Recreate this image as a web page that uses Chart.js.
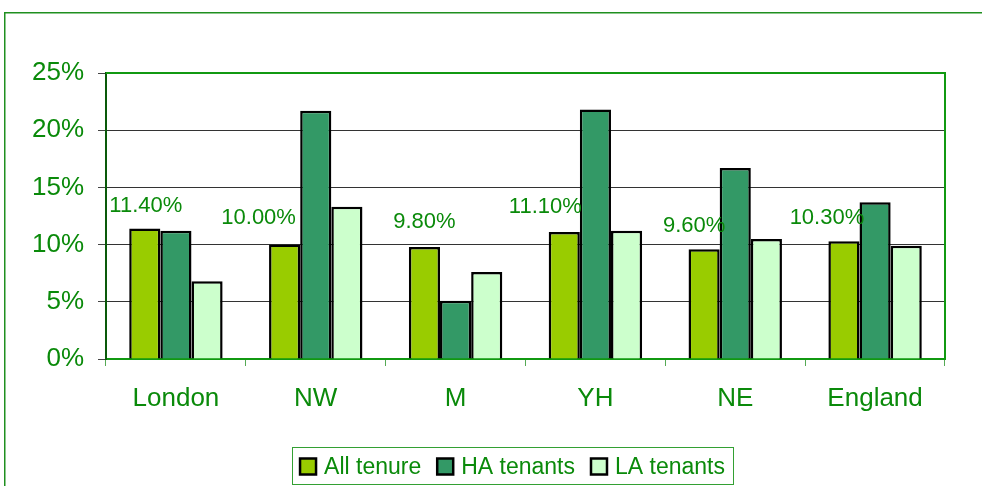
<!DOCTYPE html>
<html>
<head>
<meta charset="utf-8">
<style>
  html, body { margin: 0; padding: 0; background: #ffffff; }
  #wrap { position: relative; width: 982px; height: 486px; }
  canvas { display: block; }
</style>
<script src="https://cdn.jsdelivr.net/npm/chart.js@4"></script>
</head>
<body>
<div id="wrap"><canvas id="c" width="982" height="486"></canvas></div>
<script>
const categories = ['London', 'NW', 'M', 'YH', 'NE', 'England'];
const allTenure = [11.4, 10.0, 9.8, 11.1, 9.6, 10.3];
const haTenants = [11.2, 21.7, 5.1, 21.8, 16.7, 13.7];
const laTenants = [6.8, 13.3, 7.6, 11.2, 10.5, 9.9];
const allTenureLabels = ['11.40%', '10.00%', '9.80%', '11.10%', '9.60%', '10.30%'];
const seriesNames = ['All tenure', 'HA tenants', 'LA tenants'];
const yTicks = [0, 5, 10, 15, 20, 25];

const FONT = "'Liberation Sans', Arial, sans-serif";
const GREEN = '#0a8a0a';
const COLORS = ['#99cc00', '#339966', '#ccffcc'];

const framePlugin = {
  id: 'frame',
  beforeDraw(chart) {
    const ctx = chart.ctx;
    ctx.save();
    ctx.strokeStyle = '#1f8f1f';
    ctx.lineWidth = 1.5;
    ctx.strokeRect(4.75, 12.75, 1100, 600);
    ctx.restore();
  },
  afterDatasetsDraw(chart) {
    const a = chart.chartArea;
    const ctx = chart.ctx;
    ctx.save();
    ctx.strokeStyle = '#119911';
    ctx.lineWidth = 2;
    ctx.beginPath();
    ctx.moveTo(a.left, a.top);
    ctx.lineTo(a.right, a.top);
    ctx.lineTo(a.right, a.bottom);
    ctx.stroke();
    ctx.restore();
  }
};

const labelPlugin = {
  id: 'barLabels',
  afterDatasetsDraw(chart, args, opts) {
    const meta = chart.getDatasetMeta(0);
    const ctx = chart.ctx;
    ctx.save();
    ctx.font = '22px ' + FONT;
    ctx.fillStyle = GREEN;
    ctx.textAlign = 'center';
    ctx.textBaseline = 'middle';
    meta.data.forEach((bar, i) => {
      const off = opts.offsets[i] || [0, -24];
      ctx.fillText(allTenureLabels[i], bar.x + off[0], bar.y + off[1]);
    });
    ctx.restore();
  }
};

const legendPlugin = {
  id: 'boxLegend',
  afterDraw(chart) {
    const ctx = chart.ctx;
    const box = { x: 292, y: 447, w: 441, h: 37 };
    ctx.save();
    ctx.strokeStyle = '#33a033';
    ctx.lineWidth = 1;
    ctx.strokeRect(box.x + 0.5, box.y + 0.5, box.w, box.h);
    ctx.font = '23px ' + FONT;
    const sq = 16, gapSq = 8, gapItem = 16;
    const widths = seriesNames.map(n => ctx.measureText(n).width);
    let total = 0;
    widths.forEach((w, i) => { total += sq + gapSq + w + (i < widths.length - 1 ? gapItem : 0); });
    let x = box.x + (box.w - total) / 2;
    const cy = box.y + box.h / 2 + 1;
    ctx.textBaseline = 'middle';
    ctx.textAlign = 'left';
    seriesNames.forEach((n, i) => {
      ctx.fillStyle = COLORS[i];
      ctx.fillRect(x, cy - sq / 2, sq, sq);
      ctx.strokeStyle = '#000';
      ctx.lineWidth = 2.5;
      ctx.strokeRect(x, cy - sq / 2, sq, sq);
      ctx.fillStyle = GREEN;
      ctx.fillText(n, x + sq + gapSq, cy + 1);
      x += sq + gapSq + widths[i] + gapItem;
    });
    ctx.restore();
  }
};

const mk = (label, data, i) => ({
  label, data,
  backgroundColor: COLORS[i],
  borderColor: '#000000',
  borderWidth: 2.5,
  borderSkipped: 'bottom',
  barPercentage: 1.0,
  categoryPercentage: 0.668
});

new Chart(document.getElementById('c'), {
  type: 'bar',
  data: {
    labels: categories,
    datasets: [
      mk(seriesNames[0], allTenure, 0),
      mk(seriesNames[1], haTenants, 1),
      mk(seriesNames[2], laTenants, 2)
    ]
  },
  options: {
    responsive: false,
    animation: false,
    devicePixelRatio: 1,
    layout: { padding: { top: 73, right: 37, left: 0, bottom: 0 } },
    plugins: {
      legend: { display: false },
      tooltip: { enabled: false },
      barLabels: { offsets: [[1, -23], [-26, -27], [0, -25], [-19, -25], [-10, -23], [-17, -23]] }
    },
    scales: {
      x: {
        afterFit(s) { s.height = 127; },
        grid: {
          offset: true,
          drawOnChartArea: false,
          drawTicks: true,
          tickLength: 7,
          color: '#55aa55',
          lineWidth: 1
        },
        border: { color: '#119911', width: 2 },
        ticks: {
          color: GREEN,
          font: { family: FONT, size: 26 },
          padding: 17
        }
      },
      y: {
        min: 0, max: 25,
        afterFit(s) { s.width = 106; },
        afterBuildTicks(s) { s.ticks = yTicks.map(v => ({ value: v })); },
        grid: {
          color: '#333333',
          lineWidth: 1,
          tickLength: 8,
          tickColor: '#444444'
        },
        border: { color: '#0a5a0a', width: 2 },
        ticks: {
          color: GREEN,
          font: { family: FONT, size: 26 },
          padding: 14,
          callback: v => v + '%'
        }
      }
    }
  },
  plugins: [framePlugin, labelPlugin, legendPlugin]
});
</script>
</body>
</html>
